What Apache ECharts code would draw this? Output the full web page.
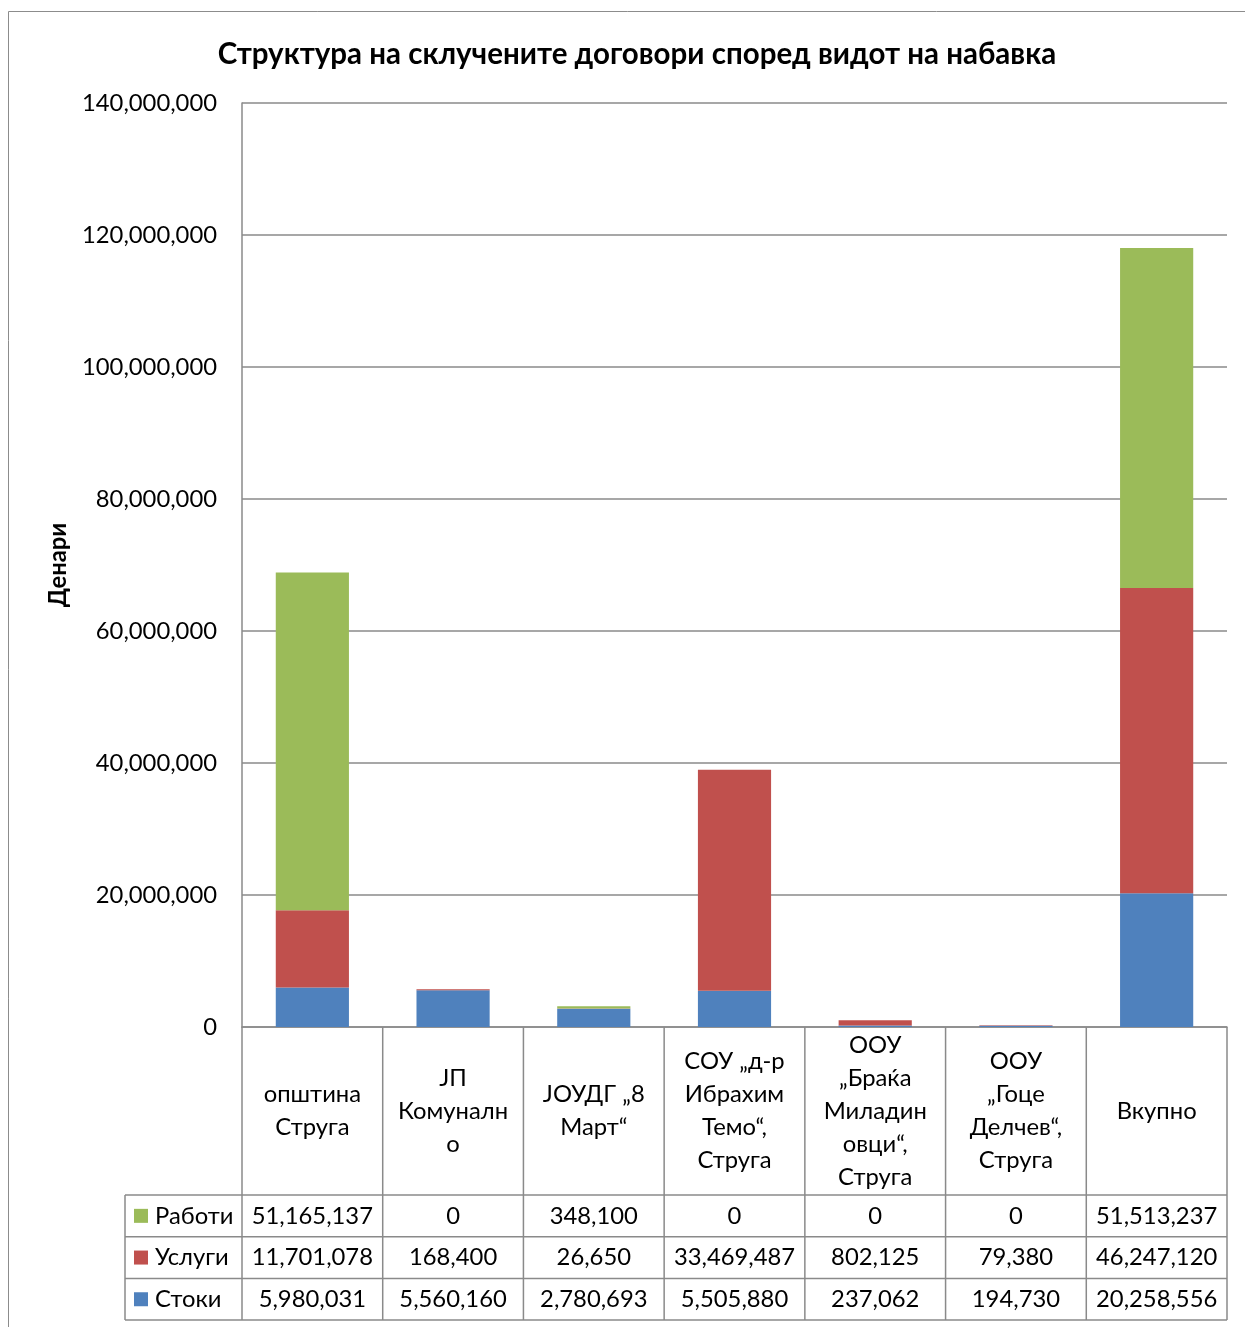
<!DOCTYPE html>
<html><head><meta charset="utf-8">
<script src="https://cdn.jsdelivr.net/npm/echarts@6/dist/echarts.min.js"></script>
<style>html,body{margin:0;padding:0;background:#fff}#c{width:1245px;height:1327px}</style>
</head><body><div id="c"></div>
<script>
const categories = ['општина\nСтруга','ЈП\nКомуналн\nо','ЈОУДГ „8\nМарт“','СОУ „д-р\nИбрахим\nТемо“,\nСтруга','ООУ\n„Браќа\nМиладин\nовци“,\nСтруга','ООУ\n„Гоце\nДелчев“,\nСтруга','Вкупно'];
const rabotiVals = [51165137, 0, 348100, 0, 0, 0, 51513237];
const uslugiVals = [11701078, 168400, 26650, 33469487, 802125, 79380, 46247120];
const stokiVals = [5980031, 5560160, 2780693, 5505880, 237062, 194730, 20258556];
const seriesNames = ['Работи','Услуги','Стоки'];
const yTicks = {min:0, max:140000000, interval:20000000};

const FONT = 'Lato, "Open Sans", sans-serif';
const FS = 23.8;
const colors = {'Работи':'#9BBB59','Услуги':'#C0504D','Стоки':'#4F81BD'};
const G = {left:242, right:1227, top:103, bottom:1027};
const headerBottom = 1195, rowH = 41.7, legendLeft = 125;
const lineColor = '#8a8a8a';
const fmt = v => v.toLocaleString('en-US');

const chart = echarts.init(document.getElementById('c'), null, {renderer:'canvas'});
const n = categories.length;
const cw = (G.right - G.left)/n;
const graphics = [];
graphics.push({type:'rect', shape:{x:8.5,y:11.5,width:1250,height:1330}, style:{fill:null, stroke:'#8c8c8c', lineWidth:1}, silent:true});
for (let i=0;i<=n;i++){
  const x = G.left + i*cw;
  graphics.push({type:'line', shape:{x1:x,y1:G.bottom,x2:x,y2:headerBottom+3*rowH}, style:{stroke:lineColor, lineWidth:1.5}, silent:true});
}
graphics.push({type:'line', shape:{x1:legendLeft,y1:headerBottom,x2:legendLeft,y2:headerBottom+3*rowH}, style:{stroke:lineColor, lineWidth:1.5}, silent:true});
for (let r=0;r<=3;r++){
  const y = headerBottom + r*rowH;
  graphics.push({type:'line', shape:{x1:legendLeft,y1:y,x2:G.right,y2:y}, style:{stroke:lineColor, lineWidth:1.5}, silent:true});
}
const rowData = [rabotiVals, uslugiVals, stokiVals];
seriesNames.forEach((name, r) => {
  const cy = headerBottom + (r+0.5)*rowH;
  graphics.push({type:'rect', shape:{x:134,y:cy-7,width:14,height:14}, style:{fill:colors[name]}, silent:true});
  graphics.push({type:'text', x:155, y:cy, style:{text:name, font:FS+'px '+FONT, fill:'#000', textAlign:'left', textVerticalAlign:'middle'}, silent:true});
  rowData[r].forEach((v,i) => {
    graphics.push({type:'text', x:G.left+(i+0.5)*cw, y:cy, style:{text:fmt(v), font:FS+'px '+FONT, fill:'#000', textAlign:'center', textVerticalAlign:'middle'}, silent:true});
  });
});

const mk = (name, data) => ({name, type:'bar', stack:'s', data, barWidth:'52%', itemStyle:{color:colors[name]}, emphasis:{disabled:true}});

chart.setOption({
  animation:false,
  textStyle:{fontFamily:FONT},
  title:{text:'Структура на склучените договори според видот на набавка', left:632, top:34, textAlign:'center',
    textStyle:{fontSize:29.5, fontWeight:'bold', color:'#000', fontFamily:FONT}},
  grid:{left:G.left, right:1245-G.right, top:G.top, bottom:1327-G.bottom, containLabel:false},
  xAxis:{type:'category', data:categories,
    axisLine:{lineStyle:{color:lineColor, width:1.5}}, axisTick:{show:false},
    axisLabel:{interval:0, margin:84, verticalAlign:'middle', lineHeight:33, fontSize:FS, color:'#000', fontFamily:FONT, align:'center'}},
  yAxis:{type:'value', min:yTicks.min, max:yTicks.max, interval:yTicks.interval,
    name:'Денари', nameLocation:'middle', nameGap:172, nameRotate:90,
    nameTextStyle:{fontSize:FS, fontWeight:'bold', color:'#000', fontFamily:FONT},
    axisLine:{show:true, lineStyle:{color:lineColor, width:1.5}}, axisTick:{show:false},
    axisLabel:{fontSize:FS, color:'#000', margin:25, formatter:v=>fmt(v), fontFamily:FONT},
    splitLine:{lineStyle:{color:lineColor, width:1.5}}},
  series:[mk('Стоки', stokiVals), mk('Услуги', uslugiVals), mk('Работи', rabotiVals)],
  graphic:graphics
});
</script></body></html>
